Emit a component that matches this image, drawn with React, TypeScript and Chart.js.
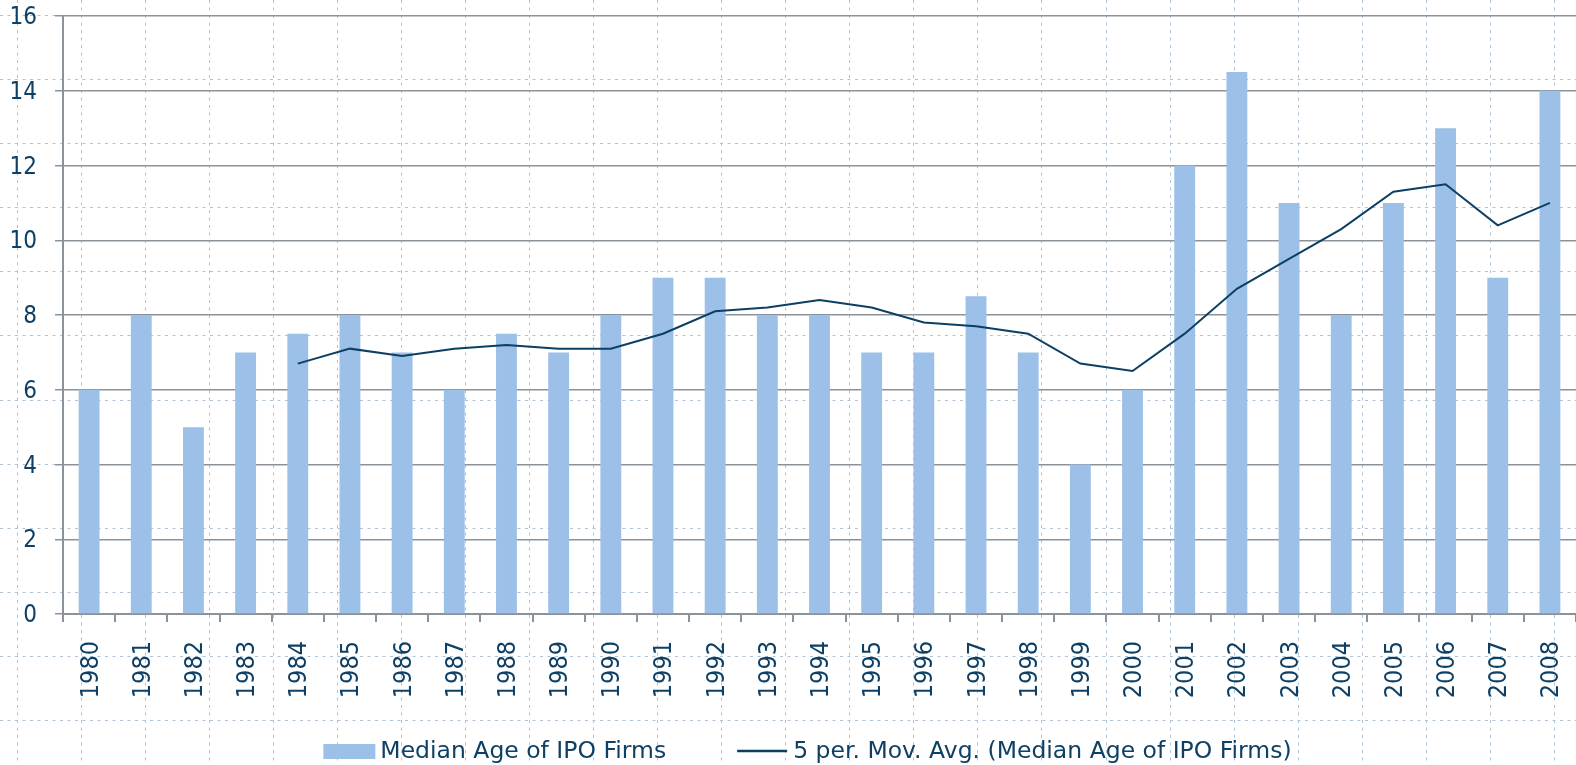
import React, { useEffect, useRef } from "react";
import { Chart, registerables } from "chart.js";

Chart.register(...registerables);

const years = [
  "1980", "1981", "1982", "1983", "1984", "1985", "1986", "1987", "1988", "1989",
  "1990", "1991", "1992", "1993", "1994", "1995", "1996", "1997", "1998", "1999",
  "2000", "2001", "2002", "2003", "2004", "2005", "2006", "2007", "2008",
];

const medianAge = [
  6, 8, 5, 7, 7.5, 8, 7, 6, 7.5, 7,
  8, 9, 9, 8, 8, 7, 7, 8.5, 7, 4,
  6, 12, 14.5, 11, 8, 11, 13, 9, 14,
];

const movingAvg = [
  null, null, null, null, 6.7, 7.1, 6.9, 7.1, 7.2, 7.1,
  7.1, 7.5, 8.1, 8.2, 8.4, 8.2, 7.8, 7.7, 7.5, 6.7,
  6.5, 7.5, 8.7, 9.5, 10.3, 11.3, 11.5, 10.4, 11.0,
];

const yMin = 0;
const yMax = 16;
const yStep = 2;

const barLabel = "Median Age of IPO Firms";
const lineLabel = "5 per. Mov. Avg. (Median Age of IPO Firms)";

const BAR_COLOR = "#9cc0e8";
const LINE_COLOR = "#0d3f63";
const TEXT_COLOR = "#0e4066";
const GRID_COLOR = "#8c929a";
const DOT_COLOR = "#aec4d6";
const TICK_FONT = "'DejaVu Sans Condensed', 'DejaVu Sans', sans-serif";
const LEGEND_FONT = "'DejaVu Sans', sans-serif";

const backgroundPattern = {
  id: "bgPattern",
  beforeDraw(chart: any) {
    const { ctx, width, height } = chart;
    ctx.save();
    ctx.fillStyle = "#ffffff";
    ctx.fillRect(0, 0, width, height);
    ctx.strokeStyle = DOT_COLOR;
    ctx.lineWidth = 1;
    ctx.setLineDash([3, 4.5]);
    const sp = 64.05;
    for (let x = 16.7; x < width; x += sp) {
      const px = Math.round(x) + 0.5;
      ctx.beginPath();
      ctx.moveTo(px, 0);
      ctx.lineTo(px, height);
      ctx.stroke();
    }
    for (let y = 15.2; y < height; y += sp) {
      const py = Math.round(y) + 0.5;
      ctx.beginPath();
      ctx.moveTo(0, py);
      ctx.lineTo(width, py);
      ctx.stroke();
    }
    ctx.restore();
  },
};

const customLegend = {
  id: "customLegend",
  afterDraw(chart: any) {
    const { ctx } = chart;
    ctx.save();
    ctx.font = `23.5px ${LEGEND_FONT}`;
    ctx.textBaseline = "alphabetic";
    ctx.textAlign = "left";
    const w1 = ctx.measureText(barLabel).width;
    const w2 = ctx.measureText(lineLabel).width;
    const boxW = 52;
    const lineW = 50;
    const gapText = 5;
    const gapItems = 71;
    const total = boxW + gapText + w1 + gapItems + lineW + 6 + w2;
    let x = 807.5 - total / 2;
    const baseY = 758;
    ctx.fillStyle = BAR_COLOR;
    ctx.fillRect(x, 744, boxW, 15);
    x += boxW + gapText;
    ctx.fillStyle = TEXT_COLOR;
    ctx.fillText(barLabel, x, baseY);
    x += w1 + gapItems;
    ctx.strokeStyle = LINE_COLOR;
    ctx.lineWidth = 2.5;
    ctx.beginPath();
    ctx.moveTo(x, 751);
    ctx.lineTo(x + lineW, 751);
    ctx.stroke();
    x += lineW + 6;
    ctx.fillText(lineLabel, x, baseY);
    ctx.restore();
  },
};

export default function App() {
  const canvasRef = useRef<HTMLCanvasElement | null>(null);

  useEffect(() => {
    if (!canvasRef.current) return;
    const chart = new Chart(canvasRef.current, {
      type: "bar",
      data: {
        labels: years,
        datasets: [
          {
            type: "line",
            label: lineLabel,
            data: movingAvg,
            borderColor: LINE_COLOR,
            borderWidth: 2,
            pointRadius: 0,
            tension: 0,
            fill: false,
            spanGaps: false,
            order: 0,
          } as any,
          {
            type: "bar",
            label: barLabel,
            data: medianAge,
            backgroundColor: BAR_COLOR,
            borderWidth: 0,
            barPercentage: 0.4,
            categoryPercentage: 1,
            order: 1,
          },
        ],
      },
      options: {
        responsive: false,
        animation: false,
        layout: { padding: { top: 16, left: 0, right: 0, bottom: 0 } },
        plugins: {
          legend: { display: false },
          tooltip: { enabled: false },
        },
        scales: {
          x: {
            offset: true,
            grid: {
              display: true,
              drawOnChartArea: false,
              drawTicks: true,
              tickLength: 8,
              color: GRID_COLOR,
              lineWidth: 2,
              offset: true,
            },
            border: { display: true, color: GRID_COLOR, width: 2 },
            ticks: {
              color: TEXT_COLOR,
              font: { family: TICK_FONT, size: 25 },
              minRotation: 90,
              maxRotation: 90,
              padding: 19,
              labelOffset: 2,
              autoSkip: false,
            },
            afterFit: (s: any) => {
              s.height = 151;
              s.paddingLeft = 0;
              s.paddingRight = 0;
            },
          },
          y: {
            min: yMin,
            max: yMax,
            ticks: {
              stepSize: yStep,
              color: TEXT_COLOR,
              font: { family: TICK_FONT, size: 24 },
              padding: 18,
              labelOffset: 2,
            },
            grid: {
              color: GRID_COLOR,
              lineWidth: 1.5,
              drawTicks: true,
              tickLength: 8,
            },
            border: { display: true, color: GRID_COLOR, width: 2 },
            afterFit: (s: any) => {
              s.width = 63;
              s.paddingTop = 0;
              s.paddingBottom = 0;
            },
          },
        },
      },
      plugins: [backgroundPattern, customLegend],
    });
    return () => chart.destroy();
  }, []);

  return (
    <div style={{ position: "fixed", left: 0, top: 0, width: 1576, height: 765, overflow: "hidden" }}>
      <canvas ref={canvasRef} width={1576} height={765} style={{ display: "block", width: 1576, height: 765 }} />
    </div>
  );
}
